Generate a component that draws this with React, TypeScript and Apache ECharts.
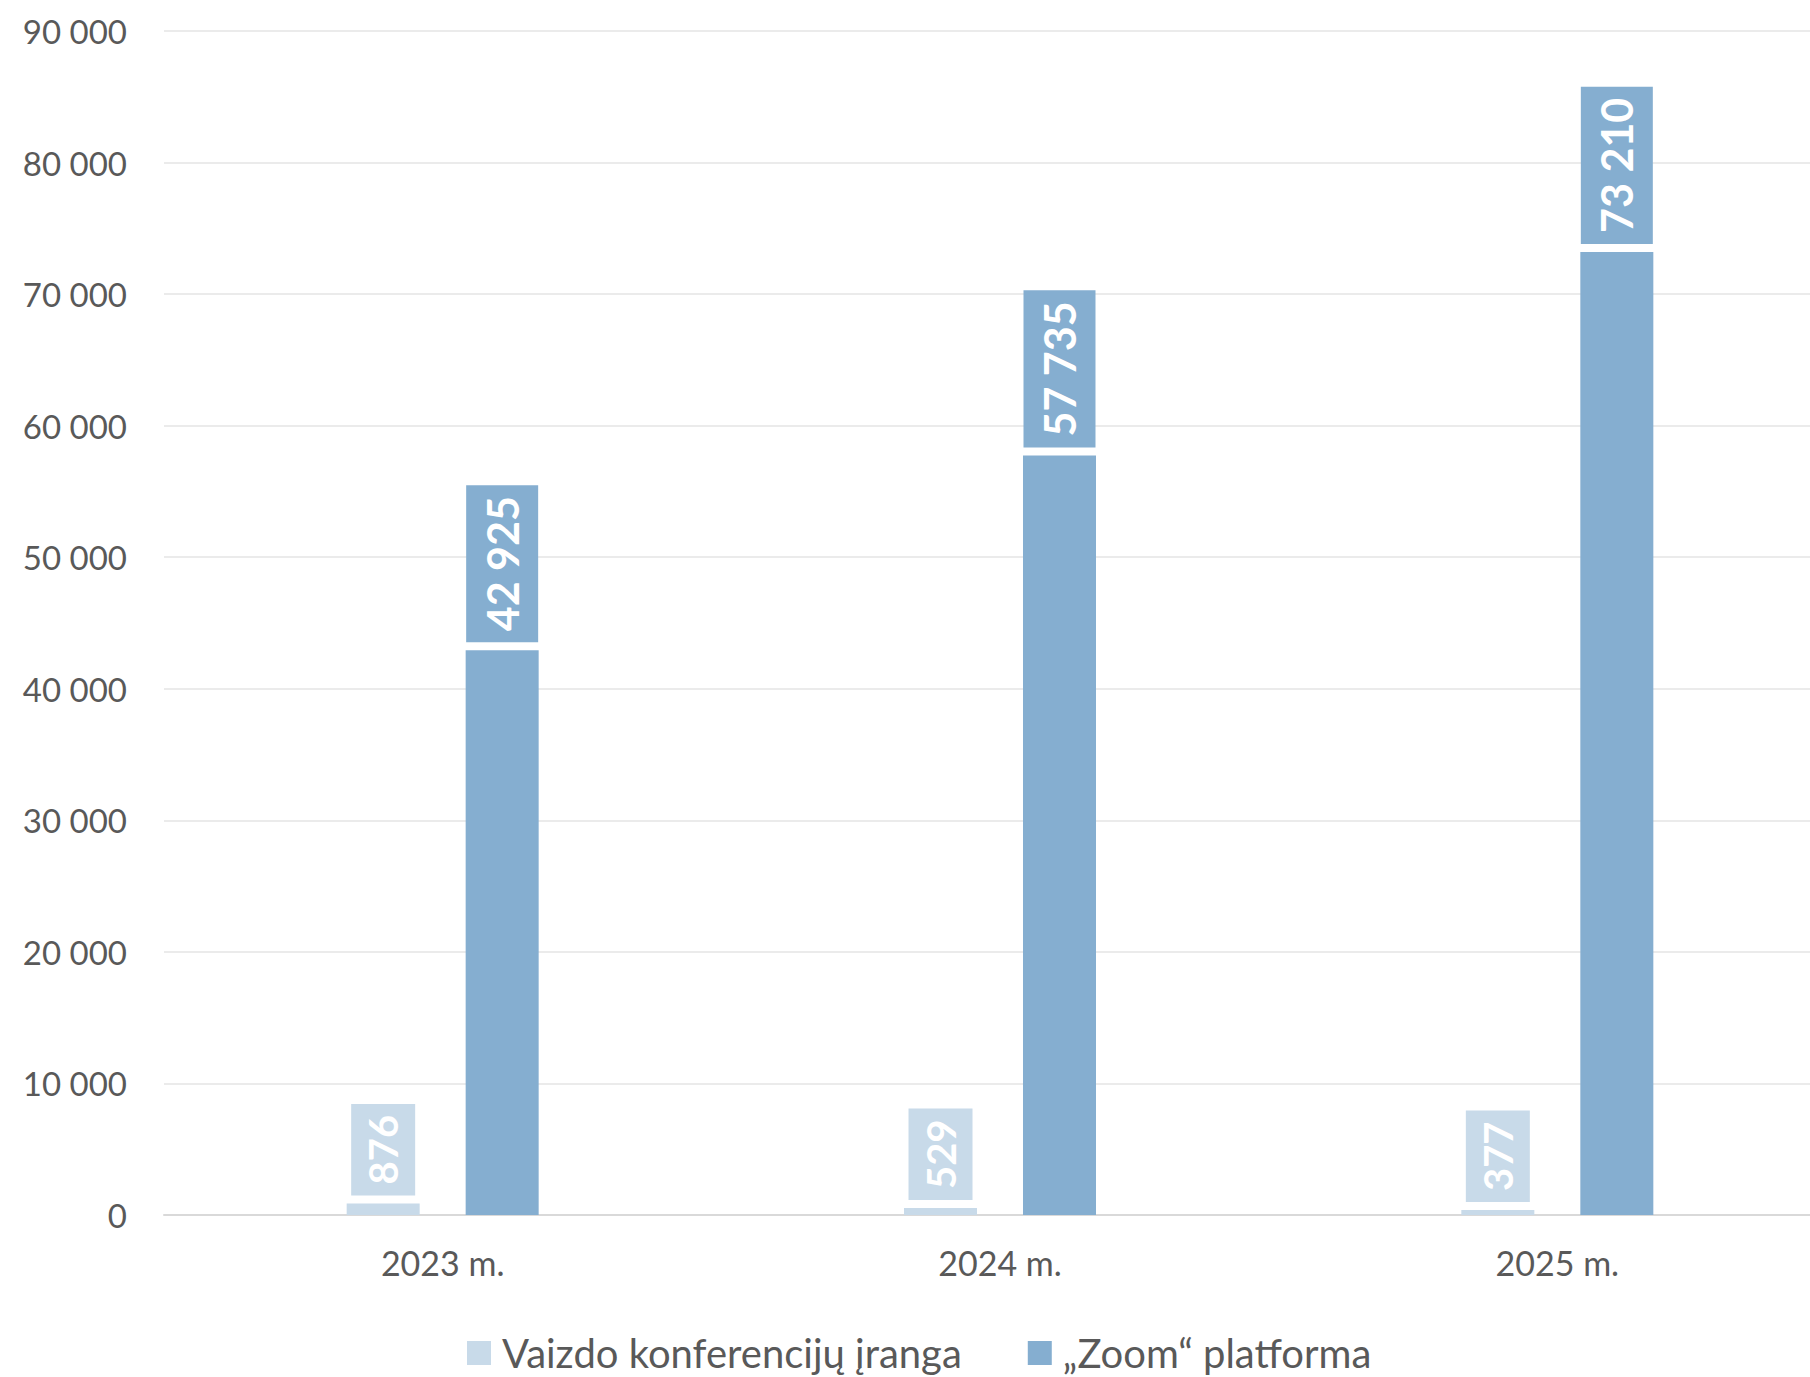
import React, { useEffect, useRef } from "react";
import * as echarts from "echarts";

const categories = ["2023 m.", "2024 m.", "2025 m."];
const seriesNames = ["Vaizdo konferencijų įranga", "„Zoom“ platforma"];
const equipmentValues = [876, 529, 377];
const zoomValues = [42925, 57735, 73210];
const yTicks = { min: 0, max: 90000, interval: 10000 };

const fmt = (v: number) => {
  const s = String(Math.round(v));
  return s.replace(/\B(?=(\d{3})+(?!\d))/g, " ");
};

const LIGHT = "#C8DAE9";
const DARK = "#85AED0";
const FONT = "Lato";

export default function App() {
  const ref = useRef<HTMLDivElement>(null);
  useEffect(() => {
    document.body.style.margin = "0";
    const chart = echarts.init(ref.current!, null, { renderer: "svg" });
    const label = (bg: string, padTB: number, fontSize: number) => ({
      show: true,
      position: "top",
      distance: 8,
      rotate: 90,
      align: "left",
      verticalAlign: "middle",
      color: "#ffffff",
      fontFamily: FONT,
      fontWeight: "bold",
      fontSize,
      lineHeight: 50,
      backgroundColor: bg,
      padding: [padTB, 11, padTB, 11],
      formatter: (p: any) => fmt(p.value),
    });
    chart.setOption({
      animation: false,
      grid: { left: 164, right: 0, top: 31, bottom: 162, containLabel: false },
      legend: {
        data: seriesNames,
        left: 462,
        top: 1325,
        icon: "rect",
        itemWidth: 24,
        itemHeight: 24,
        itemGap: 66,
        textStyle: { fontFamily: FONT, fontSize: 40, color: "#595959", lineHeight: 46, padding: [0, 0, 0, 6] },
      },
      xAxis: {
        type: "category",
        data: categories,
        axisTick: { show: false },
        axisLine: { lineStyle: { color: "#D9D9D9", width: 2 } },
        axisLabel: { fontFamily: FONT, fontSize: 34, color: "#595959", margin: 30 },
      },
      yAxis: {
        type: "value",
        min: yTicks.min,
        max: yTicks.max,
        interval: yTicks.interval,
        axisLine: { show: false },
        axisTick: { show: false },
        splitLine: { lineStyle: { color: "#E4E4E4", width: 1.5 } },
        axisLabel: {
          fontFamily: FONT,
          fontSize: 33,
          color: "#595959",
          margin: 37,
          formatter: (v: number) => fmt(v),
        },
      },
      series: [
        {
          name: seriesNames[0],
          type: "bar",
          data: equipmentValues,
          barWidth: 73,
          barGap: "63%",
          itemStyle: { color: LIGHT },
          label: label(LIGHT, 7, 40),
        },
        {
          name: seriesNames[1],
          type: "bar",
          data: zoomValues,
          barWidth: 73,
          barGap: "63%",
          itemStyle: { color: DARK },
          label: label(DARK, 11, 43),
        },
      ],
    });
    return () => chart.dispose();
  }, []);
  return (
    <div style={{ width: 1810, height: 1377, overflow: "hidden" }}>
      <div ref={ref} style={{ width: 1836, height: 1377 }} />
    </div>
  );
}
